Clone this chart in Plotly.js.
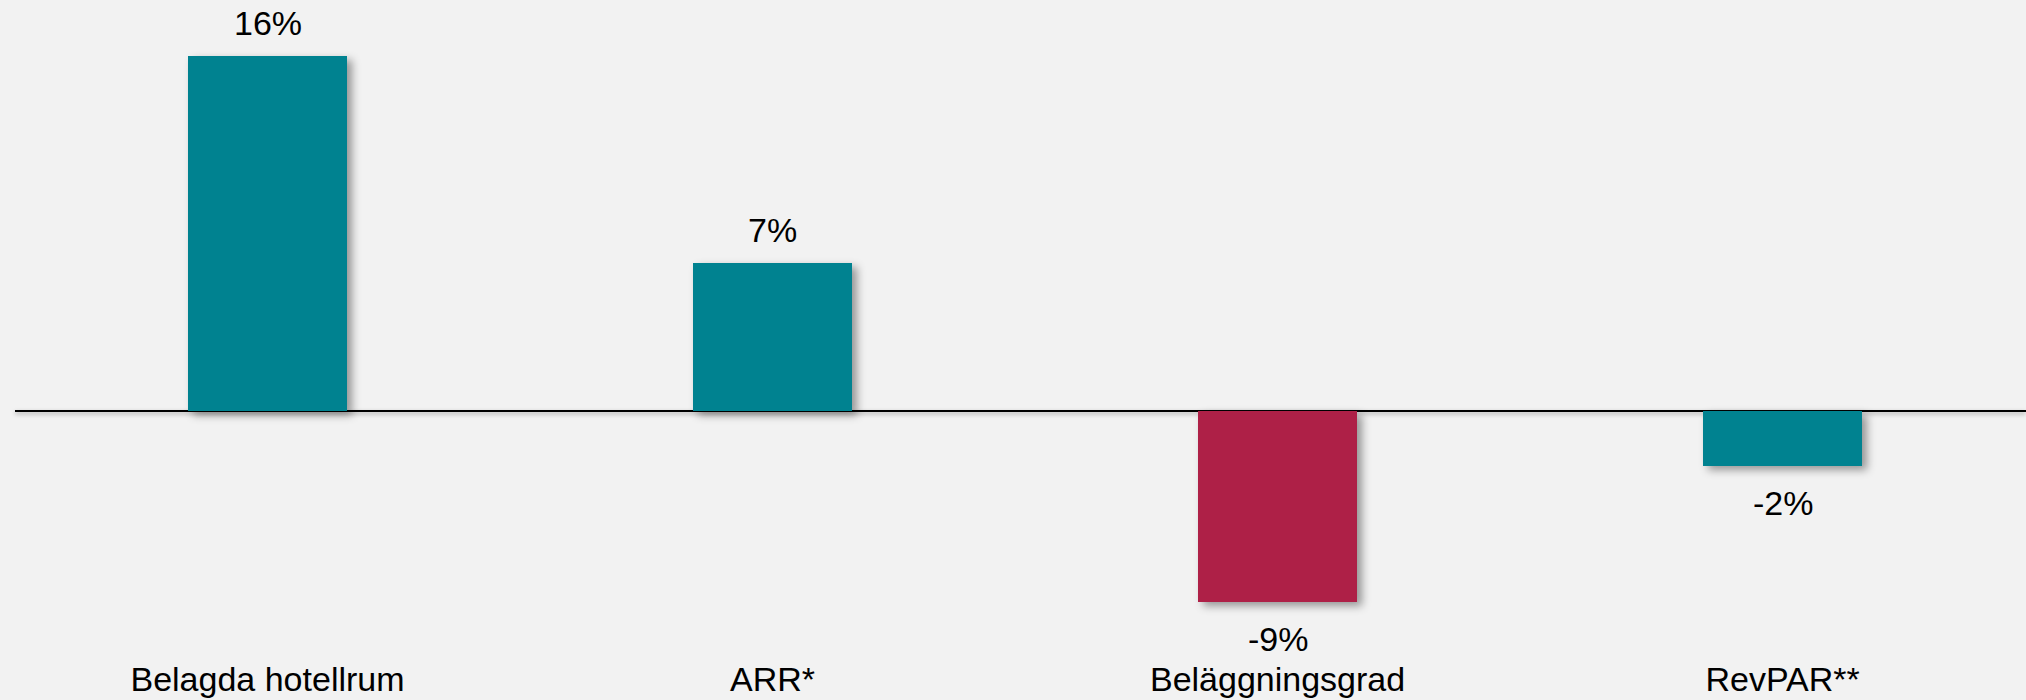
<!DOCTYPE html>
<html>
<head>
<meta charset="utf-8">
<script src="https://cdn.plot.ly/plotly-3.0.1.min.js"></script>
<style>
  html, body { margin: 0; padding: 0; background: #F2F2F2; }
  #chart { width: 2026px; height: 700px; }
  .js-plotly-plot .barlayer .point path { filter: drop-shadow(5px 4px 4px rgba(0,0,0,0.38)); }
  .js-plotly-plot .zerolinelayer path { filter: drop-shadow(0px 2px 2px rgba(0,0,0,0.35)); }
</style>
</head>
<body>
<div id="chart"></div>
<script>
const categories = ['Belagda hotellrum', 'ARR*', 'Beläggningsgrad', 'RevPAR**'];
const values = [16.15, 6.75, -8.65, -2.47];
const valueLabels = ['16%', '7%', '-9%', '-2%'];
const barColors = ['#008290', '#008290', '#AE2047', '#008290'];

const fontFamily = '"Liberation Sans", Arial, sans-serif';

const annotations = categories.map((c, i) => ({
  x: c,
  y: values[i],
  text: valueLabels[i],
  showarrow: false,
  xanchor: 'center',
  yanchor: values[i] >= 0 ? 'bottom' : 'top',
  yshift: values[i] >= 0 ? 12 : -16,
  font: { family: fontFamily, size: 34, color: '#000000' }
}));

const trace = {
  type: 'bar',
  x: categories,
  y: values,
  width: 0.314,
  marker: { color: barColors, line: { width: 0 } },
  hoverinfo: 'none'
};

const layout = {
  width: 2026,
  height: 700,
  paper_bgcolor: '#F2F2F2',
  plot_bgcolor: '#F2F2F2',
  margin: { l: 15, r: 0, t: 0, b: 60 },
  showlegend: false,
  bargap: 0,
  xaxis: {
    type: 'category',
    range: [-0.5, 3.482],
    showgrid: false,
    zeroline: false,
    showline: false,
    ticks: '',
    ticklabelstandoff: 16,
    tickfont: { family: fontFamily, size: 34, color: '#000000' }
  },
  yaxis: {
    range: [-10.395, 18.695],
    showgrid: false,
    showticklabels: false,
    ticks: '',
    showline: false,
    zeroline: true,
    zerolinecolor: '#000000',
    zerolinewidth: 2
  },
  annotations: annotations
};

Plotly.newPlot('chart', [trace], layout, { staticPlot: true, displayModeBar: false });
</script>
</body>
</html>
